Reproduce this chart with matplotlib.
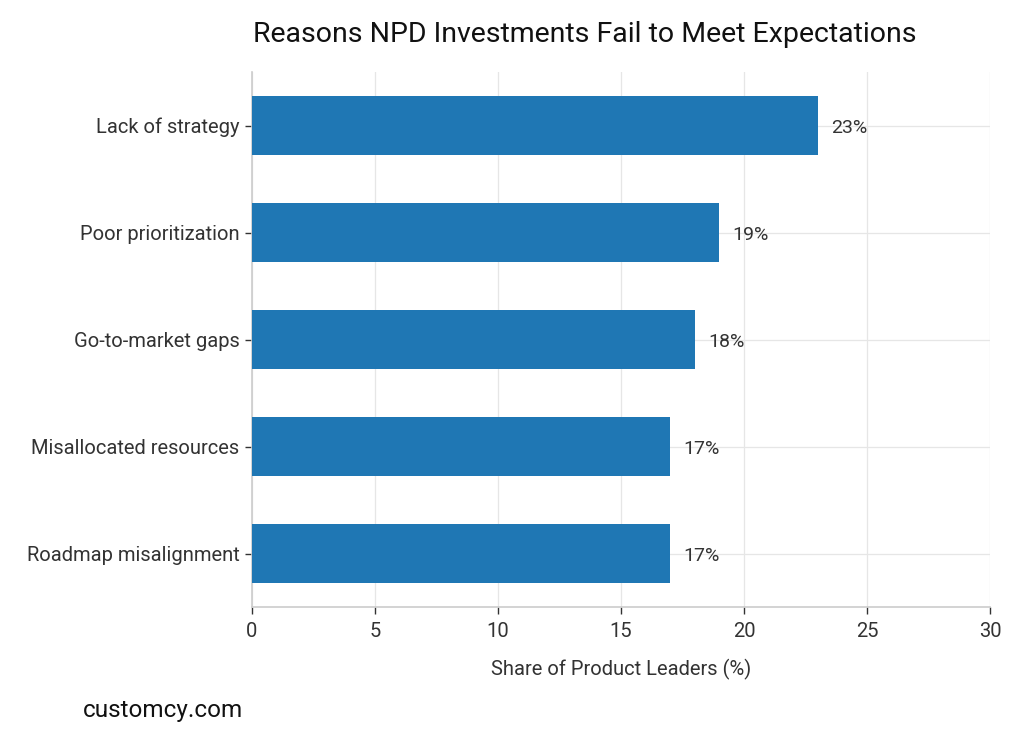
import matplotlib
matplotlib.use("Agg")
import matplotlib.pyplot as plt

categories = ["Lack of strategy", "Poor prioritization", "Go-to-market gaps",
              "Misallocated resources", "Roadmap misalignment"]
values = [23, 19, 18, 17, 17]
xticks = [0, 5, 10, 15, 20, 25, 30]

plt.rcParams['font.family'] = ['Roboto', 'DejaVu Sans']

fig = plt.figure(figsize=(10.24, 7.32), dpi=100)
ax = fig.add_axes([252/1024, 1-607/732, (990-252)/1024, (607-72)/732])

ypos = list(range(len(categories)))
ax.barh(ypos, values, height=0.55, color="#1f77b4", zorder=3)
ax.set_yticks(ypos)
ax.set_yticklabels(categories, fontsize=14.5, color="#333333")
ax.set_ylim(len(categories) - 0.5, -0.5)
ax.set_xlim(0, 30)
ax.set_xticks(xticks)
ax.set_xticklabels([str(t) for t in xticks], fontsize=14.5, color="#333333")
ax.grid(True, color="#e6e6e6", linewidth=0.9, zorder=0)
ax.set_axisbelow(True)
for s in ["top", "right"]:
    ax.spines[s].set_visible(False)
for s in ["left", "bottom"]:
    ax.spines[s].set_color("#cccccc")
    ax.spines[s].set_linewidth(1.2)
ax.tick_params(axis="both", color="#333333", length=5, width=1)
ax.tick_params(axis="x", pad=6)
ax.tick_params(axis="y", pad=4)

for y, v in zip(ypos, values):
    ax.annotate(f"{v}%", (v, y), xytext=(9.5, -1.5), textcoords="offset points",
                va="center", ha="left", fontsize=14, color="#333333")

ax.set_xlabel("Share of Product Leaders (%)", fontsize=14.5, color="#333333", labelpad=13)
fig.text(585/1024, 1-35/732, "Reasons NPD Investments Fail to Meet Expectations",
         ha="center", va="center", fontsize=20.5, color="#111111")
fig.text(83/1024, 1-710/732, "customcy.com", ha="left", va="center",
         fontsize=17.5, color="#111111")

fig.savefig("out.png", dpi=100)
